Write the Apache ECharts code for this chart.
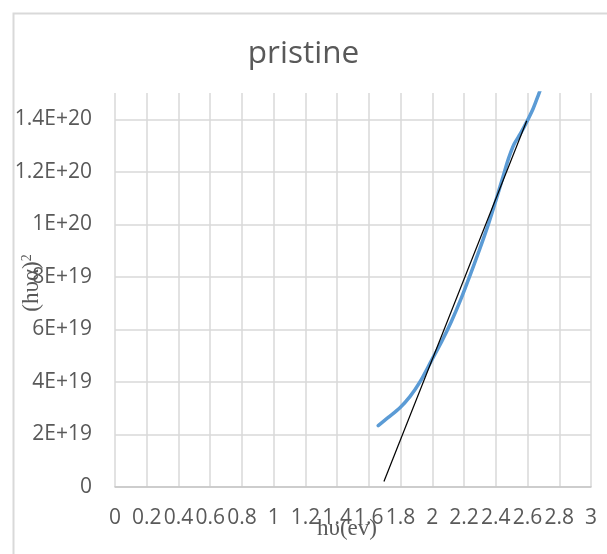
<!DOCTYPE html>
<html>
<head>
<meta charset="utf-8">
<script src="https://cdn.jsdelivr.net/npm/echarts@6/dist/echarts.min.js"></script>
<style>
  html, body { margin: 0; padding: 0; background: #ffffff; }
  #chart { width: 607px; height: 554px; }
</style>
</head>
<body>
<div id="chart"></div>
<script>
// Measured absorption curve, (hυα)^2 against photon energy hυ (eV)
const curveX = [1.659, 1.72, 1.796, 1.86, 1.92, 1.996, 2.06, 2.12, 2.18, 2.237, 2.295, 2.353, 2.40, 2.445, 2.48, 2.515, 2.555, 2.595, 2.635, 2.67, 2.70];
const curveY = [2.34e19, 2.64e19, 3.02e19, 3.45e19, 3.98e19, 4.83e19, 5.55e19, 6.3e19, 7.15e19, 8.05e19, 9.0e19, 1.0e20, 1.09e20, 1.18e20, 1.25e20, 1.305e20, 1.345e20, 1.39e20, 1.44e20, 1.495e20, 1.545e20];

// Straight-line fit through the linear region (Tauc extrapolation)
const fitX = [1.695, 2.595];
const fitY = [2.1e18, 1.394e20];

// Axis ticks
const xMin = 0, xMax = 3, xStep = 0.2;
const yTickValues = [0, 2e19, 4e19, 6e19, 8e19, 1e20, 1.2e20, 1.4e20];
const yTickLabels = ['0', '2E+19', '4E+19', '6E+19', '8E+19', '1E+20', '1.2E+20', '1.4E+20'];
const yMax = 1.5e20;

const chartTitle = 'pristine';
const xName = 'hυ(ev)';

const pairs = (xs, ys) => xs.map((x, i) => [x, ys[i]]);

const chart = echarts.init(document.getElementById('chart'), null, { renderer: 'canvas' });

const labelColor = '#595959';
const gridColor = '#d9d9d9';
const sans = 'Open Sans';

chart.setOption({
  backgroundColor: '#ffffff',
  animation: false,
  title: {
    text: chartTitle,
    left: 'center',
    top: 38,
    padding: [0, 0, 0, 28],
    textStyle: { fontFamily: sans, fontSize: 31.5, fontWeight: 'normal', color: labelColor }
  },
  graphic: [{
    type: 'rect',
    left: 11, top: 11,
    shape: { width: 640, height: 600 },
    style: { fill: 'none', stroke: '#d9d9d9', lineWidth: 2 },
    silent: true
  }],
  grid: { left: 115, right: 16, top: 93, bottom: 67, containLabel: false, outerBoundsMode: 'none' },
  xAxis: {
    type: 'value',
    min: xMin, max: xMax, interval: xStep,
    name: xName,
    nameLocation: 'middle',
    nameGap: 30,
    nameMoveOverlap: false,
    nameTextStyle: { fontFamily: 'Liberation Serif', fontSize: 23, color: labelColor, padding: [0, 12, 0, 0] },
    axisLine: { show: true, lineStyle: { color: '#c6c6c6', width: 1.5 } },
    axisTick: { show: false },
    axisLabel: {
      margin: 21, hideOverlap: false,
      fontFamily: sans, fontSize: 21, color: labelColor,
      showMinLabel: true, showMaxLabel: true
    },
    splitLine: { show: true, lineStyle: { color: gridColor, width: 1.5 } }
  },
  yAxis: {
    type: 'value',
    min: 0, max: yMax, interval: 2e19,
    name: '{a|(hυα)}{s|2}',
    nameLocation: 'middle',
    nameGap: 72,
    nameMoveOverlap: false,
    nameTextStyle: {
      padding: [0, 0, 0, 14],
      rich: {
        a: { fontFamily: 'Liberation Serif', fontSize: 23, color: labelColor, verticalAlign: 'bottom' },
        s: { fontFamily: 'Liberation Serif', fontSize: 14, color: labelColor, verticalAlign: 'top' }
      }
    },
    axisLine: { show: false },
    axisTick: { show: false },
    axisLabel: {
      margin: 23, hideOverlap: false,
      fontFamily: sans, fontSize: 21, color: labelColor,
      showMaxLabel: false,
      formatter: function (v) {
        const i = yTickValues.findIndex(t => Math.abs(t - v) < 1e15);
        return i >= 0 ? yTickLabels[i] : '';
      }
    },
    splitLine: { show: true, showMaxLine: false, lineStyle: { color: gridColor, width: 1.5 } }
  },
  series: [
    {
      type: 'line',
      data: pairs(curveX, curveY),
      smooth: 0.3,
      showSymbol: false,
      clip: true,
      lineStyle: { color: '#5b9bd5', width: 3.5, cap: 'round' },
      z: 3
    },
    {
      type: 'line',
      data: pairs(fitX, fitY),
      showSymbol: false,
      lineStyle: { color: '#000000', width: 1.2 },
      z: 4
    }
  ]
});
</script>
</body>
</html>
